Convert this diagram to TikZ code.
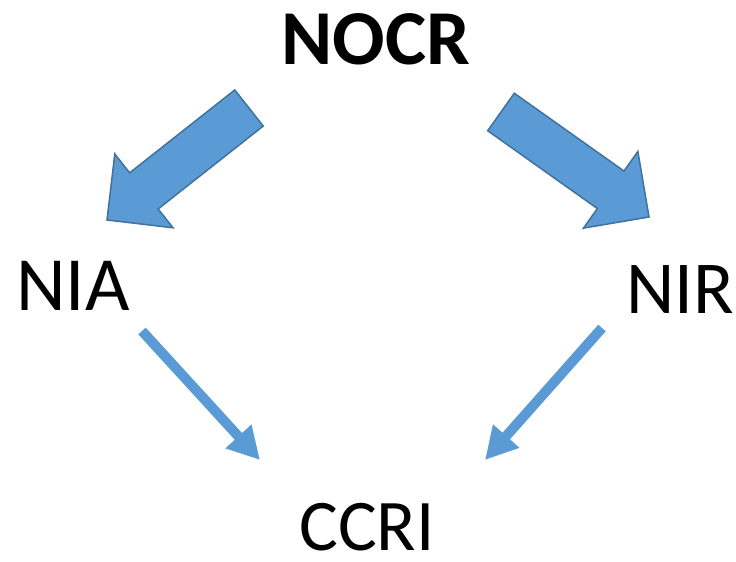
\documentclass[tikz,border=0pt]{standalone}
\usepackage{fontspec}
\setmainfont{Carlito}
\usepackage{xcolor}
\definecolor{arrowblue}{RGB}{91,155,213}
\definecolor{arrowedge}{RGB}{65,113,156}
\usepackage{tikz}
\usetikzlibrary{arrows.meta, calc}

% block arrow from tail (#1) to tip (#2)
\newcommand{\blockarrow}[2]{%
    \coordinate (neck) at ($(#2)!47bp!(#1)$);
    \draw[bigarrow] ($(#1)!23bp!90:(#2)$) -- ($(neck)!23bp!90:(#2)$) -- ($(neck)!47bp!90:(#2)$)
        -- (#2) -- ($(neck)!47bp!-90:(#2)$) -- ($(neck)!23bp!-90:(#2)$) -- ($(#1)!23bp!-90:(#2)$) -- cycle;
}

\begin{document}
\begin{tikzpicture}[
        x=1bp, y=-1bp,
        label/.style={anchor=base, inner sep=0pt, text depth=0pt, font=\fontsize{#1}{#1}\selectfont},
        bigarrow/.style={fill=arrowblue, draw=arrowedge, line width=1.5bp, line join=miter},
        arrow/.style={-{Triangle[length=32bp, width=33bp]}, line width=10bp, color=arrowblue}
    ]
        \useasboundingbox (0,0) rectangle (736,562);

        \node[label=78, font=\fontsize{78}{78}\selectfont\bfseries] (nocr) at (376,65) {NOCR};
        \node[label=77] (nia) at (73,310) {NIA};
        \node[label=75] (nir) at (680,313) {NIR};
        \node[label=73] (ccri) at (367,550) {CCRI};

        \coordinate (leftTail) at (249,108);
        \coordinate (leftTip) at (107,220);
        \coordinate (rightTail) at (501,112);
        \coordinate (rightTip) at (649,217);
        \blockarrow{leftTail}{leftTip}
        \blockarrow{rightTail}{rightTip}

        \coordinate (niaOut) at (142,331);
        \coordinate (ccriInL) at (260,460);
        \coordinate (nirOut) at (602,328);
        \coordinate (ccriInR) at (485,460);
        \draw[arrow] (niaOut) -- (ccriInL);
        \draw[arrow] (nirOut) -- (ccriInR);
    \end{tikzpicture}
\end{document}
